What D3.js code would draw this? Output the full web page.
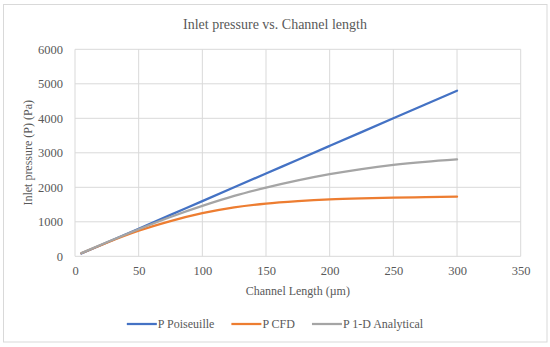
<!DOCTYPE html>
<meta charset="utf-8">
<title>Inlet pressure vs. Channel length</title>
<style>
body { margin: 0; background: #fff; }
.grid line { stroke: #d9d9d9; stroke-width: 1; }
</style>
<script src="https://d3js.org/d3.v7.min.js"></script>
<body>
<script>
// Channel length (um)
var lengths = [5, 25, 50, 75, 100, 125, 150, 175, 200, 225, 250, 275, 300];
// Inlet pressure (Pa)
var pPoiseuille = [80, 400, 800, 1200, 1600, 2000, 2400, 2800, 3200, 3600, 4000, 4400, 4800];
var pCFD        = [90, 395, 740, 1020, 1250, 1420, 1530, 1600, 1650, 1680, 1700, 1715, 1730];
var pAnalytical = [92, 405, 785, 1140, 1460, 1750, 1990, 2200, 2380, 2530, 2650, 2740, 2810];
var seriesNames = ["P Poiseuille", "P CFD", "P 1-D Analytical"];
var seriesColors = ["#4472c4", "#ed7d31", "#a5a5a5"];
var xTicks = [0, 50, 100, 150, 200, 250, 300, 350];
var yTicks = [0, 1000, 2000, 3000, 4000, 5000, 6000];

var width = 550, height = 347;
var plotL = 75, plotR = 520.7, plotT = 49.3, plotB = 256.3;
var serif = "'Liberation Serif', 'Times New Roman', serif";

var svg = d3.select("body").append("svg")
    .attr("width", width)
    .attr("height", height)
    .style("font-family", serif);

// outer chart border
svg.append("rect")
    .attr("x", 3.5).attr("y", 4.5)
    .attr("width", 543.5).attr("height", 337.5)
    .attr("fill", "#fff")
    .attr("stroke", "#d9d9d9");

var x = d3.scaleLinear().domain([0, 350]).range([plotL, plotR]);
var y = d3.scaleLinear().domain([0, 6000]).range([plotB, plotT]);

// gridlines
var grid = svg.append("g").attr("class", "grid");
grid.selectAll("line.h").data(yTicks).enter().append("line")
    .attr("x1", plotL).attr("x2", plotR)
    .attr("y1", function(d) { return y(d); })
    .attr("y2", function(d) { return y(d); });
grid.selectAll("line.v").data(xTicks).enter().append("line")
    .attr("y1", plotT).attr("y2", plotB)
    .attr("x1", function(d) { return x(d); })
    .attr("x2", function(d) { return x(d); });

// axes (labels only, lines come from grid)
var xAxis = svg.append("g")
    .attr("transform", "translate(0," + plotB + ")")
    .call(d3.axisBottom(x).tickValues(xTicks).tickFormat(d3.format("d")).tickSize(0).tickPadding(10));
xAxis.select(".domain").remove();

var yAxis = svg.append("g")
    .attr("transform", "translate(" + plotL + ",0)")
    .call(d3.axisLeft(y).tickValues(yTicks).tickFormat(d3.format("d")).tickSize(0).tickPadding(12));
yAxis.select(".domain").remove();

svg.selectAll(".tick text")
    .style("font-family", serif)
    .style("font-size", "12.5px")
    .style("fill", "#595959");

// series
var line = d3.line()
    .x(function(d) { return x(d[0]); })
    .y(function(d) { return y(d[1]); })
    .curve(d3.curveMonotoneX);

[pPoiseuille, pCFD, pAnalytical].forEach(function(vals, i) {
  svg.append("path")
      .datum(lengths.map(function(l, j) { return [l, vals[j]]; }))
      .attr("fill", "none")
      .attr("stroke", seriesColors[i])
      .attr("stroke-width", 2.25)
      .attr("stroke-linecap", "round")
      .attr("d", line);
});

// title
svg.append("text")
    .attr("x", 275).attr("y", 29)
    .attr("text-anchor", "middle")
    .attr("fill", "#595959")
    .style("font-size", "14px")
    .text("Inlet pressure vs. Channel length");

// axis titles
svg.append("text")
    .attr("x", (plotL + plotR) / 2).attr("y", 295)
    .attr("text-anchor", "middle")
    .attr("fill", "#595959")
    .style("font-size", "12px")
    .text("Channel Length (\u00b5m)");

svg.append("text")
    .attr("transform", "translate(32," + ((plotT + plotB) / 2) + ") rotate(-90)")
    .attr("text-anchor", "middle")
    .attr("fill", "#595959")
    .style("font-size", "12px")
    .text("Inlet pressure (P) (Pa)");

// legend
var legend = svg.append("g");
var items = legend.selectAll("g").data(seriesNames).enter().append("g");
items.append("line")
    .attr("x1", 0).attr("x2", 30)
    .attr("y1", 0).attr("y2", 0)
    .attr("stroke", function(d, i) { return seriesColors[i]; })
    .attr("stroke-width", 2.25);
items.append("text")
    .attr("x", 31).attr("y", 4)
    .attr("fill", "#595959")
    .style("font-size", "12px")
    .text(function(d) { return d; });
var pos = 0, offs = [];
items.each(function() {
  offs.push(pos);
  pos += 31 + d3.select(this).select("text").node().getComputedTextLength() + 17;
});
var total = pos - 17;
items.attr("transform", function(d, i) { return "translate(" + offs[i] + ",0)"; });
legend.attr("transform", "translate(" + (275 - total / 2) + ",324)");
</script>
